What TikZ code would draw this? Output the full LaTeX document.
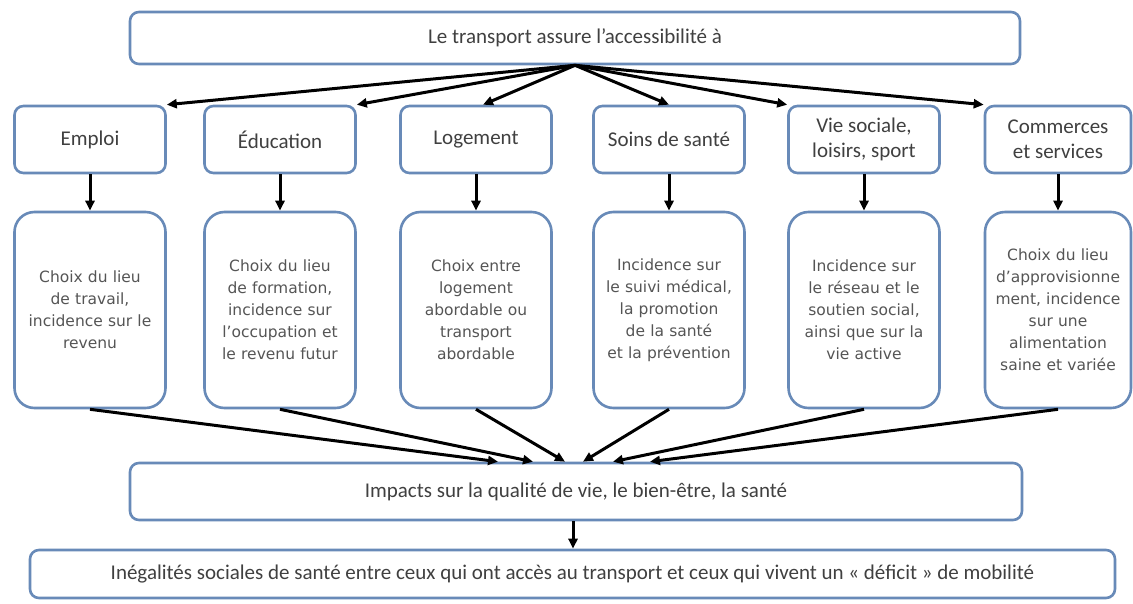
\documentclass[tikz,border=0pt]{standalone}
\usepackage{fontspec}
\setmainfont{Carlito}
\newfontfamily\incfont{DejaVu Sans}
\usepackage{tikz}
\usetikzlibrary{arrows.meta}
\definecolor{boxblue}{RGB}{104,138,184}
\definecolor{txtgray}{RGB}{64,64,64}
\definecolor{inctext}{RGB}{85,85,85}

\begin{document}
\begin{tikzpicture}[x=1pt,y=-1pt,
  box/.style={draw=boxblue,line width=2.6pt,rounded corners=9pt,fill=white,
    text=txtgray,font=\fontsize{21}{25}\selectfont,align=center,inner sep=0pt},
  accbox/.style={box,minimum width=151pt,minimum height=67pt},
  tallbox/.style={box,rounded corners=20pt,minimum width=151pt,minimum height=196pt,
    text width=147pt,text=inctext,font=\incfont\fontsize{15.5}{22}\selectfont},
  arr/.style={-{Triangle[length=10pt,width=9pt]},line width=3pt}]
\fill[white] (0,0) rectangle (1133,603);
\useasboundingbox (0,0) rectangle (1133,603);

\node[box,minimum width=890pt,minimum height=52pt] (top) at (575,38) {Le transport assure l’accessibilité à};

\node[accbox] (emp) at (90,139.5) {Emploi};
\node[accbox] (edu) at (280,139.5) {Éducation};
\node[accbox] (log) at (476,139.5) {Logement};
\node[accbox] (soin) at (669,139.5) {Soins de santé};
\node[accbox] (vie) at (864,139.5) {Vie sociale,\\ loisirs, sport};
\node[accbox,minimum width=146pt] (com) at (1058,139.5) {Commerces\\ et services};

\node[tallbox] (emp2) at (90,310) {Choix du lieu\\ de travail,\\ incidence sur le\\ revenu};
\node[tallbox] (edu2) at (280,310) {Choix du lieu\\ de formation,\\ incidence sur\\ l’occupation et\\ le revenu futur};
\node[tallbox] (log2) at (476,310) {Choix entre\\ logement\\ abordable ou\\ transport\\ abordable};
\node[tallbox] (soin2) at (669,310) {Incidence sur\\ le suivi médical,\\ la promotion\\ de la santé\\ et la prévention};
\node[tallbox] (vie2) at (864,310) {Incidence sur\\ le réseau et le\\ soutien social,\\ ainsi que sur la\\ vie active};
\node[tallbox,minimum width=146pt,text width=142pt] (com2) at (1058,310) {Choix du lieu\\ d’approvisionne\\ment, incidence\\ sur une\\ alimentation\\ saine et variée};

\node[box,minimum width=892pt,minimum height=57pt] (imp) at (576,491.5) {Impacts sur la qualité de vie, le bien-être, la santé};
\node[box,minimum width=1085pt,minimum height=48pt] (ineg) at (572.5,574) {Inégalités sociales de santé entre ceux qui ont accès au transport et ceux qui vivent un «~déficit~» de mobilité};

\draw[arr] (top.south) -- (emp.north east);
\draw[arr] (top.south) -- (edu.north east);
\draw[arr] (top.south) -- ([xshift=7pt]log.north);
\draw[arr] (top.south) -- (soin.north);
\draw[arr] (top.south) -- (vie.north west);
\draw[arr] (top.south) -- (com.north west);

\draw[arr] (emp.south) -- (emp2.north);
\draw[arr] (edu.south) -- (edu2.north);
\draw[arr] (log.south) -- (log2.north);
\draw[arr] (soin.south) -- (soin2.north);
\draw[arr] (vie.south) -- (vie2.north);
\draw[arr] (com.south) -- (com2.north);

\draw[arr] (emp2.south) -- ([xshift=-78pt]imp.north);
\draw[arr] (edu2.south) -- ([xshift=-43pt]imp.north);
\draw[arr] (log2.south) -- ([xshift=-11pt]imp.north);
\draw[arr] (soin2.south) -- ([xshift=7pt]imp.north);
\draw[arr] (vie2.south) -- ([xshift=37pt]imp.north);
\draw[arr] (com2.south) -- ([xshift=74pt]imp.north);

\draw[arr] ([xshift=-3pt]imp.south) -- ([xshift=-3pt]imp.south |- ineg.north);
\end{tikzpicture}
\end{document}
